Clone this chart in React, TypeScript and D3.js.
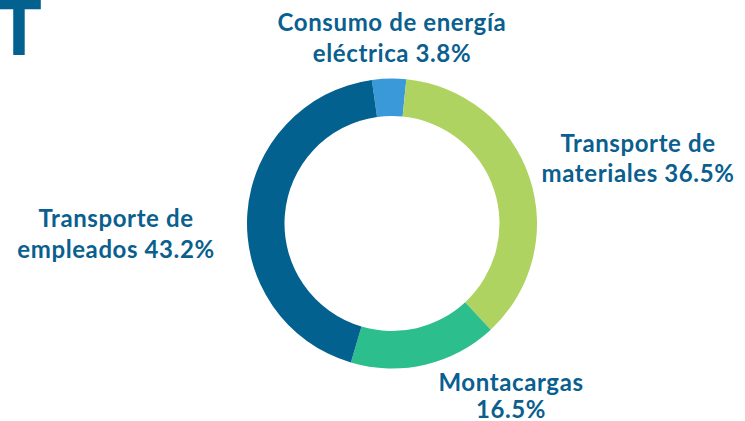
import React from "react";
import * as d3 from "d3";

const categories = ["Consumo de energía eléctrica", "Transporte de materiales", "Montacargas", "Transporte de empleados"];
const values = [3.8, 36.5, 16.5, 43.2];
const colors = ["#3a9ad9", "#aed361", "#2dbe8e", "#02618f"];
const labelLines = [
  ["Consumo de energía", "eléctrica 3.8%"],
  ["Transporte de", "materiales 36.5%"],
  ["Montacargas", "16.5%"],
  ["Transporte de", "empleados 43.2%"],
];
const labelPos = [
  [392, 31, 31],
  [638, 152, 30],
  [511, 391, 27],
  [116, 227, 31],
];

export default function App() {
  const W = 745, H = 421;
  const cx = 392, cy = 223.5;
  const outer = 145, inner = 107.5;
  const startA = (-8 * Math.PI) / 180;
  const pie = d3.pie<number>().sort(null).value((d) => d).startAngle(startA).endAngle(startA + 2 * Math.PI);
  const arcs = pie(values);
  const arcGen = d3.arc<d3.PieArcDatum<number>>().innerRadius(inner).outerRadius(outer);
  const textColor = "#0a5f8f";
  return (
    <svg width={W} height={H} style={{ position: "absolute", left: 0, top: 0 }} fontFamily="Lato, 'Open Sans', sans-serif">
      <rect width={W} height={H} fill="#fff" />
      <text x={-4} y={55} fontSize={76} fontWeight={900} fill="#02618f">T</text>
      <g transform={`translate(${cx},${cy})`}>
        {arcs.map((a, i) => (
          <path key={categories[i]} d={arcGen(a) || ""} fill={colors[i]} />
        ))}
      </g>
      {labelLines.map((lines, i) => (
        <text key={i} textAnchor="middle" fontSize={24} fontWeight={700} letterSpacing={0.6} fill={textColor}>
          {lines.map((l, j) => (
            <tspan key={j} x={labelPos[i][0]} y={labelPos[i][1] + j * labelPos[i][2]}>{l}</tspan>
          ))}
        </text>
      ))}
    </svg>
  );
}
